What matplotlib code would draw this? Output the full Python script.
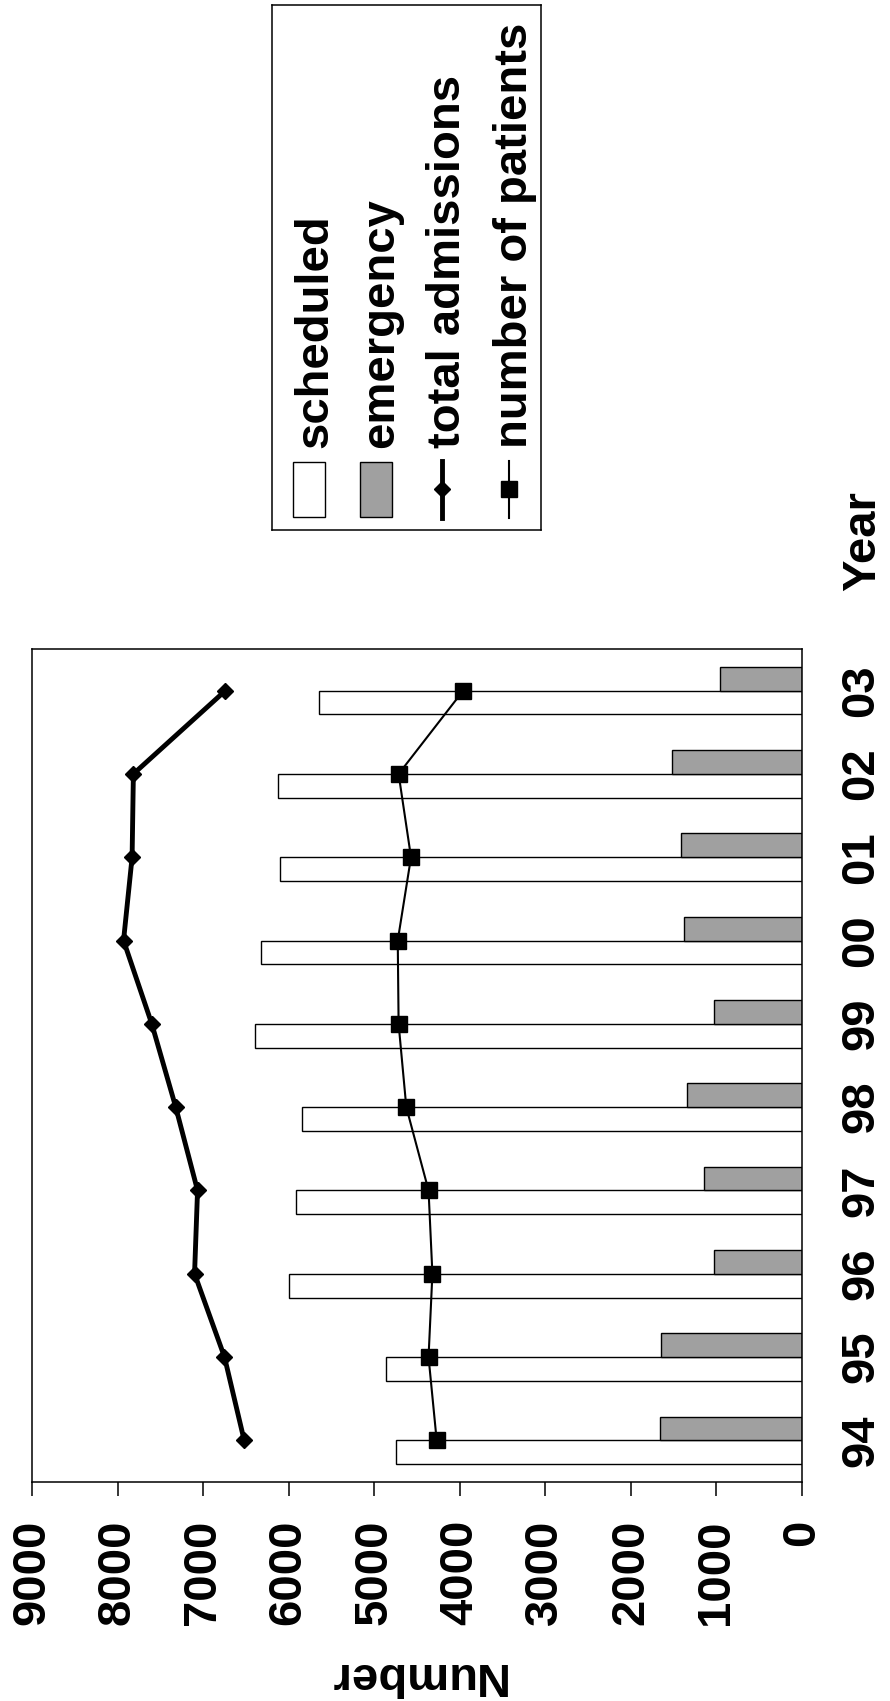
import matplotlib
matplotlib.use("Agg")
import matplotlib.pyplot as plt
from matplotlib.patches import Rectangle
import numpy as np

years = ["94", "95", "96", "97", "98", "99", "00", "01", "02", "03"]
scheduled = [4750, 4860, 6000, 5920, 5840, 6390, 6320, 6100, 6130, 5650]
emergency = [1660, 1650, 1030, 1150, 1340, 1030, 1385, 1415, 1515, 960]
total_admissions = [6520, 6750, 7100, 7065, 7320, 7600, 7930, 7830, 7815, 6740]
patients = [4270, 4365, 4320, 4365, 4625, 4715, 4725, 4570, 4715, 3960]
series_names = ["scheduled", "emergency", "total admissions", "number of patients"]
number_ticks = list(range(0, 9001, 1000))

W, H, DPI = 890, 1701, 100
FS = 34
EMERG_GREY = "#a0a0a0"

plt.rcParams['font.family'] = ['Liberation Sans', 'DejaVu Sans']


def frac(x0, y0, x1, y1):
    # pixel box (origin top-left) -> figure fraction rect
    return [x0 / W, 1 - y1 / H, (x1 - x0) / W, (y1 - y0) / H]


fig = plt.figure(figsize=(W / DPI, H / DPI), dpi=DPI)

# main plot, drawn sideways: value axis runs right-to-left, years bottom-to-top
ax = fig.add_axes(frac(32, 649, 802, 1482))
pos = np.arange(len(years))
bw = 1 / 3.5
ax.barh(pos - bw / 2, scheduled, height=bw, color="white", edgecolor="black", linewidth=1.0)
ax.barh(pos + bw / 2, emergency, height=bw, color=EMERG_GREY, edgecolor="black", linewidth=1.0)
ax.plot(total_admissions, pos, color="black", lw=3.5, marker="D", ms=8)
ax.plot(patients, pos, color="black", lw=1.5, marker="s", ms=11.5)

ax.set_xlim(9000, 0)
ax.set_ylim(-0.5, len(years) - 0.5)
ax.set_xticks(number_ticks)
ax.set_xticklabels([str(v) for v in number_ticks], rotation=90, fontsize=FS, fontweight="bold")
ax.tick_params(axis="x", direction="out", length=10, width=1.1, pad=17)
ax.yaxis.tick_right()
ax.set_yticks(pos)
ax.set_yticklabels(years, rotation=90, fontsize=FS, fontweight="bold", va="center")
ax.tick_params(axis="y", length=0, pad=27)
for sp in ax.spines.values():
    sp.set_linewidth(1.1)

fig.text(416 / W, 1 - 1675 / H, "Number", rotation=180, ha="center", va="center",
         fontsize=FS, fontweight="bold")
fig.text(863 / W, 1 - 541 / H, "Year", rotation=90, ha="center", va="center",
         fontsize=FS, fontweight="bold")

# legend, built by hand because every entry is turned on its side
lx0, ly0, lx1, ly1 = 272, 5, 541, 530
lax = fig.add_axes(frac(lx0, ly0, lx1, ly1))
lax.set_xlim(lx0, lx1)
lax.set_ylim(ly1, ly0)
lax.set_xticks([])
lax.set_yticks([])
for sp in lax.spines.values():
    sp.set_linewidth(1.1)

key_x = 309      # centre of first key
step = 66.5      # spacing between entries
key_top, key_bot = 461, 518
text_start = 448
for i, name in enumerate(series_names):
    cx = key_x + i * step
    if i < 2:
        face = "white" if i == 0 else EMERG_GREY
        lax.add_patch(Rectangle((cx - 16, key_top + 1), 32, key_bot - key_top - 2,
                                facecolor=face, edgecolor="black", linewidth=1.0))
    else:
        lw, mk, ms = (3.5, "D", 8) if i == 2 else (1.5, "s", 11.5)
        lax.plot([cx, cx], [key_top, key_bot], color="black", lw=lw)
        lax.plot([cx], [(key_top + key_bot) / 2], color="black", marker=mk, ms=ms)
    lax.text(cx + 18, text_start, name, rotation=90, rotation_mode="anchor",
             ha="left", va="baseline", fontsize=FS, fontweight="bold")

fig.savefig("out.png", dpi=DPI)
